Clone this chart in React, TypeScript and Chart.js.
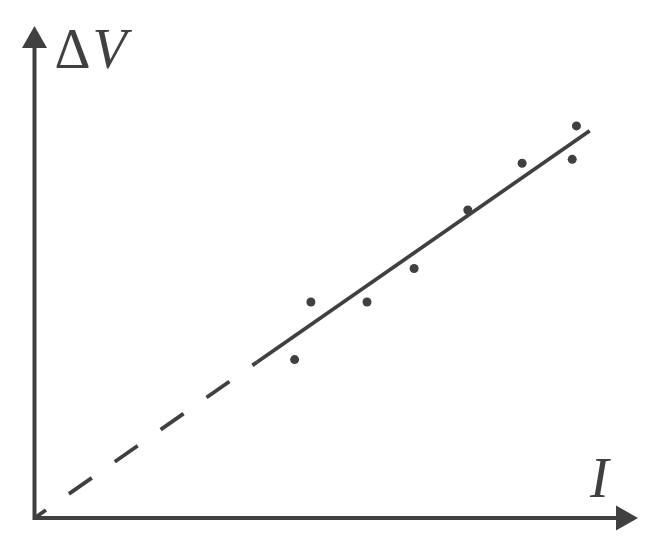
import React, { useEffect, useRef } from "react";
import { Chart, registerables } from "chart.js";

Chart.register(...registerables);

// measured data (arbitrary units)
const pointsX = [4.31, 4.58, 5.51, 6.29, 7.18, 8.08, 8.91, 8.98];
const pointsY = [3.22, 4.39, 4.39, 5.07, 6.26, 7.21, 7.29, 7.97];
const fitExtrapX = [0, 3.69];
const fitExtrapY = [0, 3.17];
const fitSolidX = [3.69, 9.2];
const fitSolidY = [3.17, 7.87];
const xLabel = "I";
const yLabelDelta = "Δ";
const yLabelVar = "V";

const INK = "#404040";

const axesPlugin = {
  id: "arrowAxes",
  afterDatasetsDraw(chart: any) {
    const { ctx, scales } = chart;
    const xs = scales.x;
    const ys = scales.y;
    const ox = xs.getPixelForValue(0);
    const oy = ys.getPixelForValue(0);
    const xEnd = xs.getPixelForValue(xs.max);
    const yEnd = ys.getPixelForValue(ys.max);
    ctx.save();
    ctx.strokeStyle = INK;
    ctx.fillStyle = INK;
    ctx.lineWidth = 4;
    ctx.lineCap = "butt";
    ctx.beginPath();
    ctx.moveTo(ox, oy + 2);
    ctx.lineTo(ox, yEnd + 18);
    ctx.moveTo(ox - 2, oy);
    ctx.lineTo(xEnd - 18, oy);
    ctx.stroke();
    // y arrow
    ctx.beginPath();
    ctx.moveTo(ox, yEnd);
    ctx.lineTo(ox - 12.5, yEnd + 22);
    ctx.lineTo(ox + 12.5, yEnd + 22);
    ctx.closePath();
    ctx.fill();
    // x arrow
    ctx.beginPath();
    ctx.moveTo(xEnd, oy);
    ctx.lineTo(xEnd - 22, oy - 12.5);
    ctx.lineTo(xEnd - 22, oy + 12.5);
    ctx.closePath();
    ctx.fill();
    // labels
    ctx.textBaseline = "alphabetic";
    ctx.textAlign = "left";
    ctx.font = '56px "Liberation Serif", "Times New Roman", serif';
    ctx.fillText(yLabelDelta, ox + 20, yEnd + 42);
    ctx.font = 'italic 56px "Liberation Serif", "Times New Roman", serif';
    ctx.fillText(yLabelVar, ox + 58, yEnd + 42);
    ctx.fillText(xLabel, xEnd - 48, oy - 21);
    ctx.restore();
  },
};

export default function App() {
  const ref = useRef<HTMLCanvasElement | null>(null);
  useEffect(() => {
    if (!ref.current) return;
    const chart = new Chart(ref.current, {
      type: "scatter",
      data: {
        datasets: [
          {
            type: "line",
            data: fitExtrapX.map((x, i) => ({ x, y: fitExtrapY[i] })),
            borderColor: INK,
            borderWidth: 3.8,
            borderDash: [28, 28],
            borderDashOffset: 14,
            pointRadius: 0,
            fill: false,
            clip: false as any,
          },
          {
            type: "line",
            data: fitSolidX.map((x, i) => ({ x, y: fitSolidY[i] })),
            borderColor: INK,
            borderWidth: 3.8,
            pointRadius: 0,
            fill: false,
            clip: false as any,
          },
          {
            data: pointsX.map((x, i) => ({ x, y: pointsY[i] })),
            backgroundColor: INK,
            borderColor: INK,
            borderWidth: 0,
            pointRadius: 4.5,
            clip: false as any,
          },
        ],
      },
      options: {
        animation: false,
        responsive: false,
        maintainAspectRatio: false,
        layout: { padding: { left: 34.5, right: 21, top: 26, bottom: 28 } },
        plugins: { legend: { display: false }, tooltip: { enabled: false } },
        scales: {
          x: { type: "linear", min: 0, max: 10, display: false },
          y: { type: "linear", min: 0, max: 10, display: false },
        },
      },
      plugins: [axesPlugin],
    });
    return () => chart.destroy();
  }, []);
  return (
    <div style={{ position: "fixed", left: 0, top: 0, width: 659, height: 546, background: "#fff" }}>
      <canvas ref={ref} width={659} height={546} style={{ width: 659, height: 546 }} />
    </div>
  );
}
